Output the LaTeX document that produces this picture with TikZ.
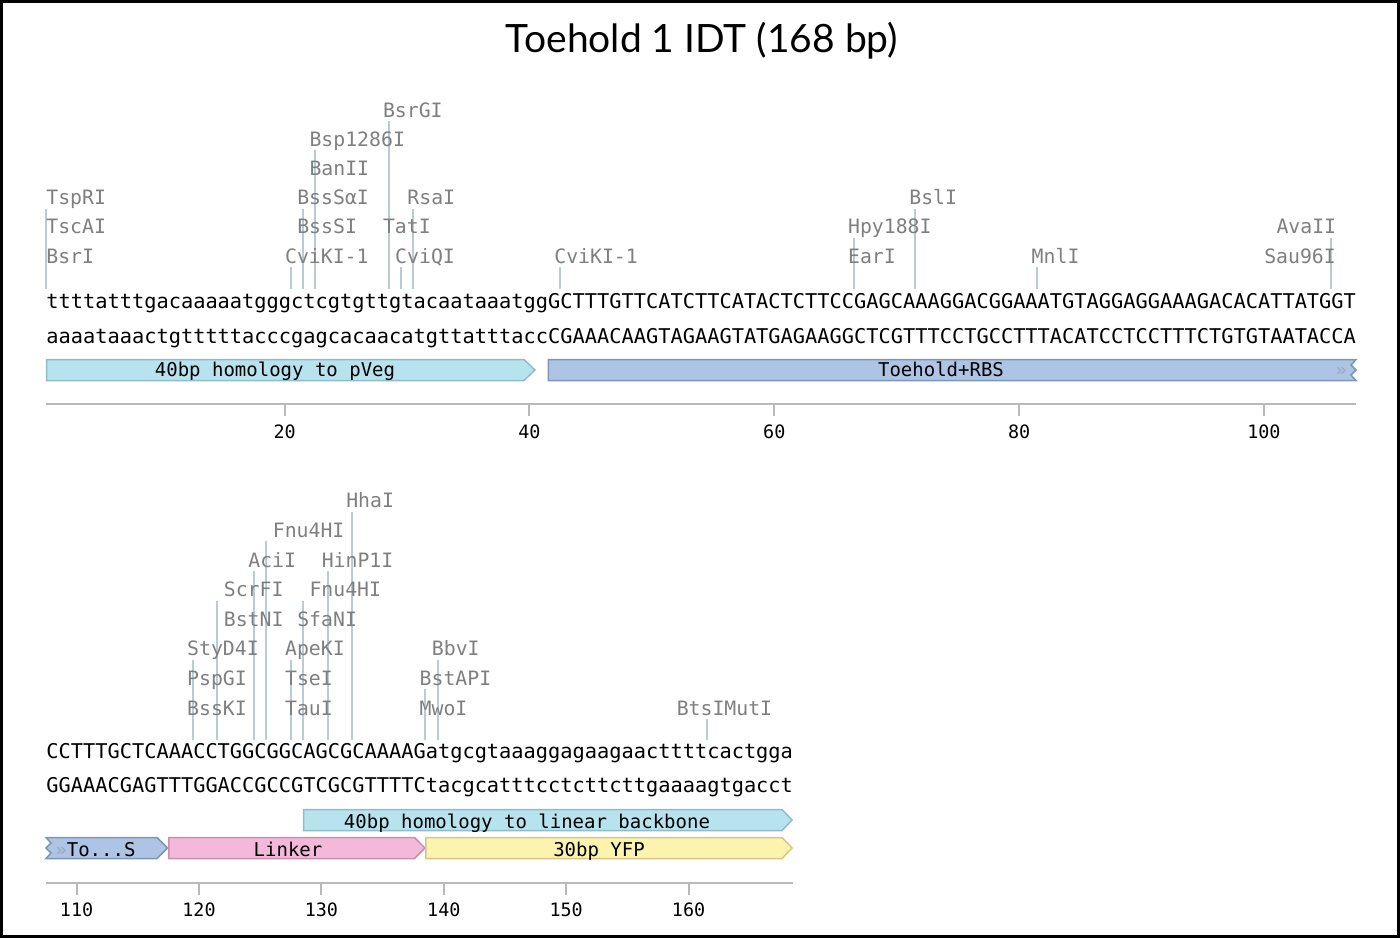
\documentclass[tikz,border=0pt]{standalone}
\usepackage{fontspec}
\setmainfont{Lato}
\setmonofont{DejaVu Sans Mono}
\usetikzlibrary{calc, positioning}

\definecolor{cutline}{HTML}{B8CCD3}
\definecolor{enzgray}{HTML}{7F7F7F}
\definecolor{rulergray}{HTML}{B9B9B9}
\definecolor{homfill}{HTML}{B6E3EE}
\definecolor{homdraw}{HTML}{8FBCC7}
\definecolor{rbsfill}{HTML}{ADC4E5}
\definecolor{rbsdraw}{HTML}{7E95B5}
\definecolor{linkfill}{HTML}{F4B9DA}
\definecolor{linkdraw}{HTML}{CC8EAE}
\definecolor{yfpfill}{HTML}{FCF3AE}
\definecolor{yfpdraw}{HTML}{D4C785}

\begin{document}
\begin{tikzpicture}[x=0.5pt, y=-0.5pt]
    \def\bw{12.24}
    \def\xo{46}
    \def\seqfont{\ttfamily\fontsize{10.165pt}{12pt}\selectfont}
    \def\enzfont{\ttfamily\fontsize{9.9pt}{12pt}\selectfont}
    \def\featfont{\ttfamily\fontsize{9.5pt}{12pt}\selectfont}
    \def\numfont{\ttfamily\fontsize{9.2pt}{11pt}\selectfont}

    \tikzstyle{seq} = [font=\seqfont, inner sep=0pt, anchor=base west]
    \tikzstyle{enz} = [font=\enzfont, text=enzgray, inner sep=0pt, anchor=base west]
    \tikzstyle{cut} = [draw=cutline, line width=1pt]
    \tikzstyle{ruler} = [draw=rulergray, line width=1pt]
    \tikzstyle{num} = [font=\numfont, inner sep=0pt]
    \tikzstyle{featlabel} = [font=\featfont, inner sep=0pt, anchor=base]
    \tikzstyle{homology} = [fill=homfill, draw=homdraw, line width=0.75pt]
    \tikzstyle{toehold} = [fill=rbsfill, draw=rbsdraw, line width=0.75pt]
    \tikzstyle{linker} = [fill=linkfill, draw=linkdraw, line width=0.75pt]
    \tikzstyle{yfp} = [fill=yfpfill, draw=yfpdraw, line width=0.75pt]

    \useasboundingbox (0,0) rectangle (1400,938);
    \draw [line width=1.5pt] (1.5,1.5) rectangle (1398,936.5);

    \node (title) [font=\fontsize{19.5pt}{22pt}\selectfont, anchor=base] at (702,52) {Toehold 1 IDT (168 bp)};

    % ---- line 1: bases 1-107 ----
    \node (top-1) [seq] at (\xo,308) {ttttatttgacaaaaatgggctcgtgttgtacaataaatggGCTTTGTTCATCTTCATACTCTTCCGAGCAAAGGACGGAAATGTAGGAGGAAAGACACATTATGGT};
    \node (bot-1) [seq] at (\xo,343) {aaaataaactgtttttacccgagcacaacatgttatttaccCGAAACAAGTAGAAGTATGAGAAGGCTCGTTTCCTGCCTTTACATCCTCCTTTCTGTGTAATACCA};

    % cut sites (boundary / label row)
    \foreach \b/\r [count=\i] in {0/3,20/1,21/3,22/5,28/6,29/1,30/3,42/1,66/2,71/3,81/1,105/2} {
        \pgfmathsetmacro{\yt}{263-29.2*(\r-1)+4}
        \coordinate (cutA-top-\i) at (\xo+\bw*\b, \yt);
        \coordinate (cutA-bot-\i) at (\xo+\bw*\b, 289);
        \draw [cut] (cutA-top-\i) -- (cutA-bot-\i);
    }
    % enzyme names (slot / row / name)
    \foreach \s/\r/\name [count=\i] in {0/3/TspRI,0/2/TscAI,0/1/BsrI,19.5/1/CviKI-1,20.5/2/BssSI,20.5/3/BssSαI,
            21.5/4/BanII,21.5/5/Bsp1286I,27.5/2/TatI,27.5/6/BsrGI,28.5/1/CviQI,29.5/3/RsaI,41.5/1/CviKI-1,
            65.5/1/EarI,65.5/2/Hpy188I,70.5/3/BslI,80.5/1/MnlI,99.5/1/Sau96I,100.5/2/AvaII} {
        \pgfmathsetmacro{\yb}{263-29.2*(\r-1)}
        \node (enzA-\i) [enz] at (\xo+\bw*\s, \yb) {\name};
    }

    % features
    \draw [homology] (46.5,359.5) -- (524,359.5) -- (535,370) -- (524,380.5) -- (46.5,380.5) -- cycle;
    \draw [toehold] (548.3,359.5) -- (1356,359.5) -- (1351,365) -- (1356,370) -- (1351,375) -- (1356,380.5)
        -- (548.3,380.5) -- cycle;
    \node (pveg) [featlabel] at (275,376.5) {40bp homology to pVeg};
    \node (rbs) [featlabel] at (941,376.5) {Toehold+RBS};
    \node (rbs-more) [featlabel, text=rbsdraw!80!white] at (1341,376) {»};

    % ruler
    \coordinate (rulerA-start) at (\xo,404);
    \coordinate (rulerA-end) at (1356,404);
    \draw [ruler] (rulerA-start) -- (rulerA-end);
    \foreach \n in {20,40,...,100} {
        \coordinate (tickA-\n) at (\xo+\bw*\n-\bw/2, 404);
        \draw [ruler] (tickA-\n) -- ++(0,12);
        \node (numA-\n) [num] at ($(tickA-\n)+(0,28)$) {\n};
    }

    % ---- line 2: bases 108-168 ----
    \node (top-2) [seq] at (\xo,758) {CCTTTGCTCAAACCTGGCGGCAGCGCAAAAGatgcgtaaaggagaagaacttttcactgga};
    \node (bot-2) [seq] at (\xo,792) {GGAAACGAGTTTGGACCGCCGTCGCGTTTTCtacgcatttcctcttcttgaaaagtgacct};

    \foreach \b/\r [count=\i] in {12/3,14/5,17/6,18/7,20/3,21/5,23/6,25/8,31/2,32/3,54/1} {
        \pgfmathsetmacro{\yt}{715-29.6*(\r-1)+4}
        \coordinate (cutB-top-\i) at (\xo+\bw*\b, \yt);
        \coordinate (cutB-bot-\i) at (\xo+\bw*\b, 740);
        \draw [cut] (cutB-top-\i) -- (cutB-bot-\i);
    }
    \foreach \s/\r/\name [count=\i] in {11.5/1/BssKI,11.5/2/PspGI,11.5/3/StyD4I,14.5/4/BstNI,14.5/5/ScrFI,
            16.5/6/AciI,18.5/7/Fnu4HI,19.5/1/TauI,19.5/2/TseI,19.5/3/ApeKI,20.5/4/SfaNI,21.5/5/Fnu4HI,
            22.5/6/HinP1I,24.5/8/HhaI,30.5/1/MwoI,30.5/2/BstAPI,31.5/3/BbvI,51.5/1/BtsIMutI} {
        \pgfmathsetmacro{\yb}{715-29.6*(\r-1)}
        \node (enzB-\i) [enz] at (\xo+\bw*\s, \yb) {\name};
    }

    % features
    \draw [homology] (303.5,809.5) -- (782,809.5) -- (792,820) -- (782,830.5) -- (303.5,830.5) -- cycle;
    \draw [toehold] (46,837.5) -- (157,837.5) -- (167.5,848) -- (157,858.5) -- (46,858.5) -- (51,853) -- (46,848)
        -- (51,843) -- cycle;
    \draw [linker] (168.9,837.5) -- (414.5,837.5) -- (424.9,848) -- (414.5,858.5) -- (168.9,858.5) -- cycle;
    \draw [yfp] (425.9,837.5) -- (782,837.5) -- (792,848) -- (782,858.5) -- (425.9,858.5) -- cycle;
    \node (backbone) [featlabel] at (527,828.5) {40bp homology to linear backbone};
    \node (tos) [featlabel, anchor=base west] at (55,856) {\textcolor{rbsdraw!80!white}{»}To...S};
    \node (linker) [featlabel] at (288,856) {Linker};
    \node (yfp) [featlabel] at (599,856) {30bp YFP};

    % ruler
    \coordinate (rulerB-start) at (\xo,883);
    \coordinate (rulerB-end) at (792.6,883);
    \draw [ruler] (rulerB-start) -- (rulerB-end);
    \foreach \n in {110,120,...,160} {
        \coordinate (tickB-\n) at (\xo+\bw*\n-\bw*107-\bw/2, 883);
        \draw [ruler] (tickB-\n) -- ++(0,12);
        \node (numB-\n) [num] at ($(tickB-\n)+(0,27)$) {\n};
    }
\end{tikzpicture}
\end{document}
